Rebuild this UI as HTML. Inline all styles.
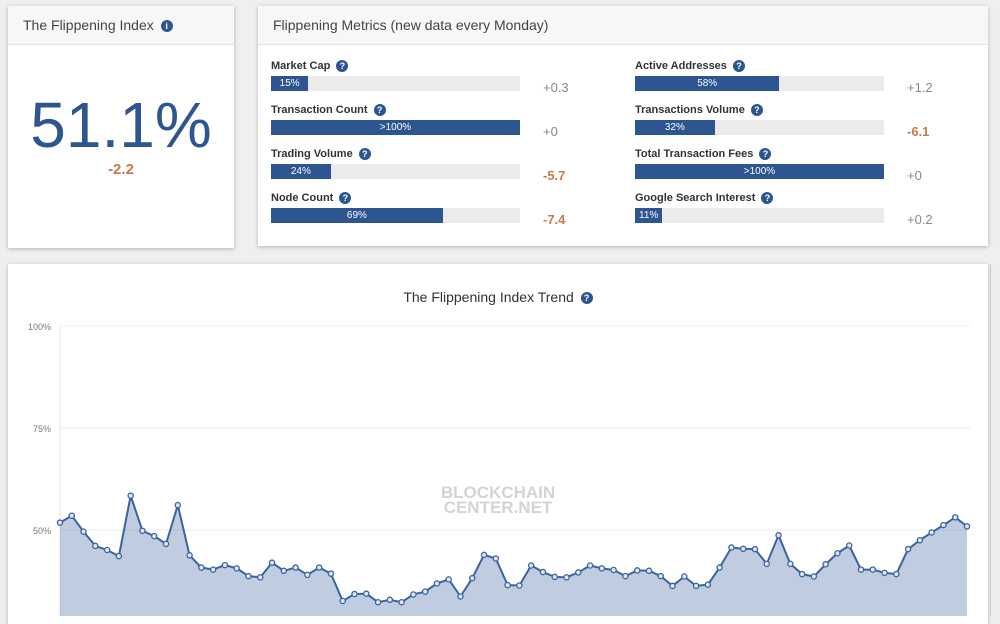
<!DOCTYPE html>
<html><head><meta charset="utf-8">
<style>
body{margin:0;width:1000px;height:616px;overflow:hidden;background:#efefef;font-family:"Liberation Sans",sans-serif;position:relative}
.card{position:absolute;background:#fff;box-shadow:0 1px 4px rgba(0,0,0,.25)}
.hdr{position:absolute;left:0;right:0;top:0;height:38px;background:#f7f7f9;border-bottom:1px solid #e4e4e4;font-size:14px;color:#444;line-height:38px;padding-left:15px}
.ic{display:inline-block;width:12px;height:12px;border-radius:50%;background:#2d5590;color:#fff;font-size:9px;line-height:12px;text-align:center;font-weight:bold;vertical-align:middle;margin-left:3px}
.lbl{position:absolute;font-size:11px;font-weight:bold;color:#333}
.bar{position:absolute;height:15px;width:249px;background:#ebebeb}
.fill{position:absolute;left:0;top:0;height:15px;background:#2d5590;color:#fff;font-size:10px;line-height:15px;text-align:center}
.dl{position:absolute;font-size:13px;color:#888}
.neg{color:#c87a4a;font-weight:bold}
</style></head><body>
<div class="card" style="left:8px;top:6px;width:226px;height:242px">
<div class="hdr">The Flippening Index <span class="ic">i</span></div>
<div style="position:absolute;left:0;width:226px;top:82px;text-align:center;font-size:64px;color:#2d5590;line-height:74px">51.1%</div>
<div style="position:absolute;left:0;width:226px;top:155px;text-align:center;font-size:15px;font-weight:bold;color:#c87a4a">-2.2</div>
</div>
<div class="card" style="left:258px;top:6px;width:730px;height:240px">
<div class="hdr">Flippening Metrics (new data every Monday)</div>
</div>
<div id="metrics"></div>
<div class="card" style="left:8px;top:264px;width:980px;height:360px">
<div style="position:absolute;left:0;width:980px;top:25px;text-align:center;font-size:14px;color:#333">The Flippening Index Trend <span class="ic">?</span></div>
</div>
<div style="position:absolute;left:990px;top:264px;width:1px;height:352px;background:#ccc"></div>
<svg id="chart" width="1000" height="616" style="position:absolute;left:0;top:0"></svg>
<script>
const mNames=["Market Cap","Transaction Count","Trading Volume","Node Count","Active Addresses","Transactions Volume","Total Transaction Fees","Google Search Interest"];
const mPct=[15,100,24,69,58,32,100,11];
const mTxt=["15%",">100%","24%","69%","58%","32%",">100%","11%"];
const mDelta=["+0.3","+0","-5.7","-7.4","+1.2","-6.1","+0","+0.2"];
const mc=document.getElementById('metrics');
mNames.forEach((n,i)=>{
 const col=i<4?0:1, row=i%4;
 const bx=col?635:271, y=row*44+60;
 const l=document.createElement('div');l.className='lbl';l.style.left=bx+'px';l.style.top=y+'px';
 l.innerHTML=n+' <span class="ic">?</span>';
 
 
 mc.appendChild(l);
 const b=document.createElement('div');b.className='bar';b.style.left=bx+'px';b.style.top=(y+16)+'px';
 
 
 const f=document.createElement('div');f.className='fill';f.style.width=(249*mPct[i]/100)+'px';f.textContent=mTxt[i];
 
 
 b.appendChild(f);mc.appendChild(b);
 const d=document.createElement('div');d.className='dl'+(mDelta[i].startsWith('-')?' neg':'');d.style.left=(bx+272)+'px';d.style.top=(y+20)+'px';d.textContent=mDelta[i];
 
 
 mc.appendChild(d);
});
const values=[51.8,53.5,49.6,46.1,45.1,43.6,58.4,49.8,48.5,46.6,56.1,43.8,40.8,40.3,41.4,40.6,38.7,38.4,42.0,40.0,40.8,39.0,40.8,39.3,32.6,34.3,34.4,32.3,32.9,32.3,34.2,34.9,36.9,37.9,33.7,38.2,43.9,43.0,36.5,36.4,41.3,39.7,38.5,38.4,39.6,41.3,40.6,40.2,38.7,40.1,40.0,38.7,36.3,38.6,36.3,36.6,40.8,45.7,45.4,45.3,41.7,48.7,41.7,39.2,38.6,41.6,44.3,46.2,40.3,40.3,39.5,39.2,45.3,47.5,49.4,51.2,53.1,50.9];
const yTicks=[50,75,100];
const yLabels=["50%","75%","100%"];
const NS="http://www.w3.org/2000/svg";
const svg=document.getElementById('chart');
const X0=60,X1=967;
const xs=i=>X0+(X1-X0)*i/(values.length-1);
const ys=v=>530-(v-50)*4.08;
function el(t,a){const e=document.createElementNS(NS,t);for(const k in a)e.setAttribute(k,a[k]);svg.appendChild(e);return e;}
yTicks.forEach((t,i)=>{
 const g=el('line',{x1:X0,x2:970,y1:ys(t),y2:ys(t),stroke:'#ececec'});
 
 
 const tx=el('text',{x:51,y:ys(t)+4,'text-anchor':'end','font-size':9,fill:'#777','font-family':'Liberation Sans'});tx.textContent=yLabels[i];
 
 
});
const ax=el('line',{x1:X0,x2:X0,y1:326,y2:616,stroke:'#e6e6e6'});


const wm=el('text',{x:498,y:498,'text-anchor':'middle','font-size':17,'font-weight':'bold',fill:'#d4d4d4','font-family':'Liberation Sans'});wm.textContent='BLOCKCHAIN';


const wm2=el('text',{x:498,y:513,'text-anchor':'middle','font-size':17,'font-weight':'bold',fill:'#d4d4d4','font-family':'Liberation Sans'});wm2.textContent='CENTER.NET';


let d='M'+xs(0)+','+ys(values[0]);
values.forEach((v,i)=>{if(i)d+=' L'+xs(i)+','+ys(v);});
const area=el('path',{d:d+' L'+xs(values.length-1)+',640 L'+X0+',640 Z',fill:'rgba(45,85,150,0.3)'});


const line=el('path',{d:d,fill:'none',stroke:'#3a64a0','stroke-width':2});


values.forEach((v,i)=>{
 const c=el('circle',{cx:xs(i),cy:ys(v),r:2.6,fill:'#dfe6f0',stroke:'#3a64a0','stroke-width':1.3});
 
 
});
</script>
</body></html>
